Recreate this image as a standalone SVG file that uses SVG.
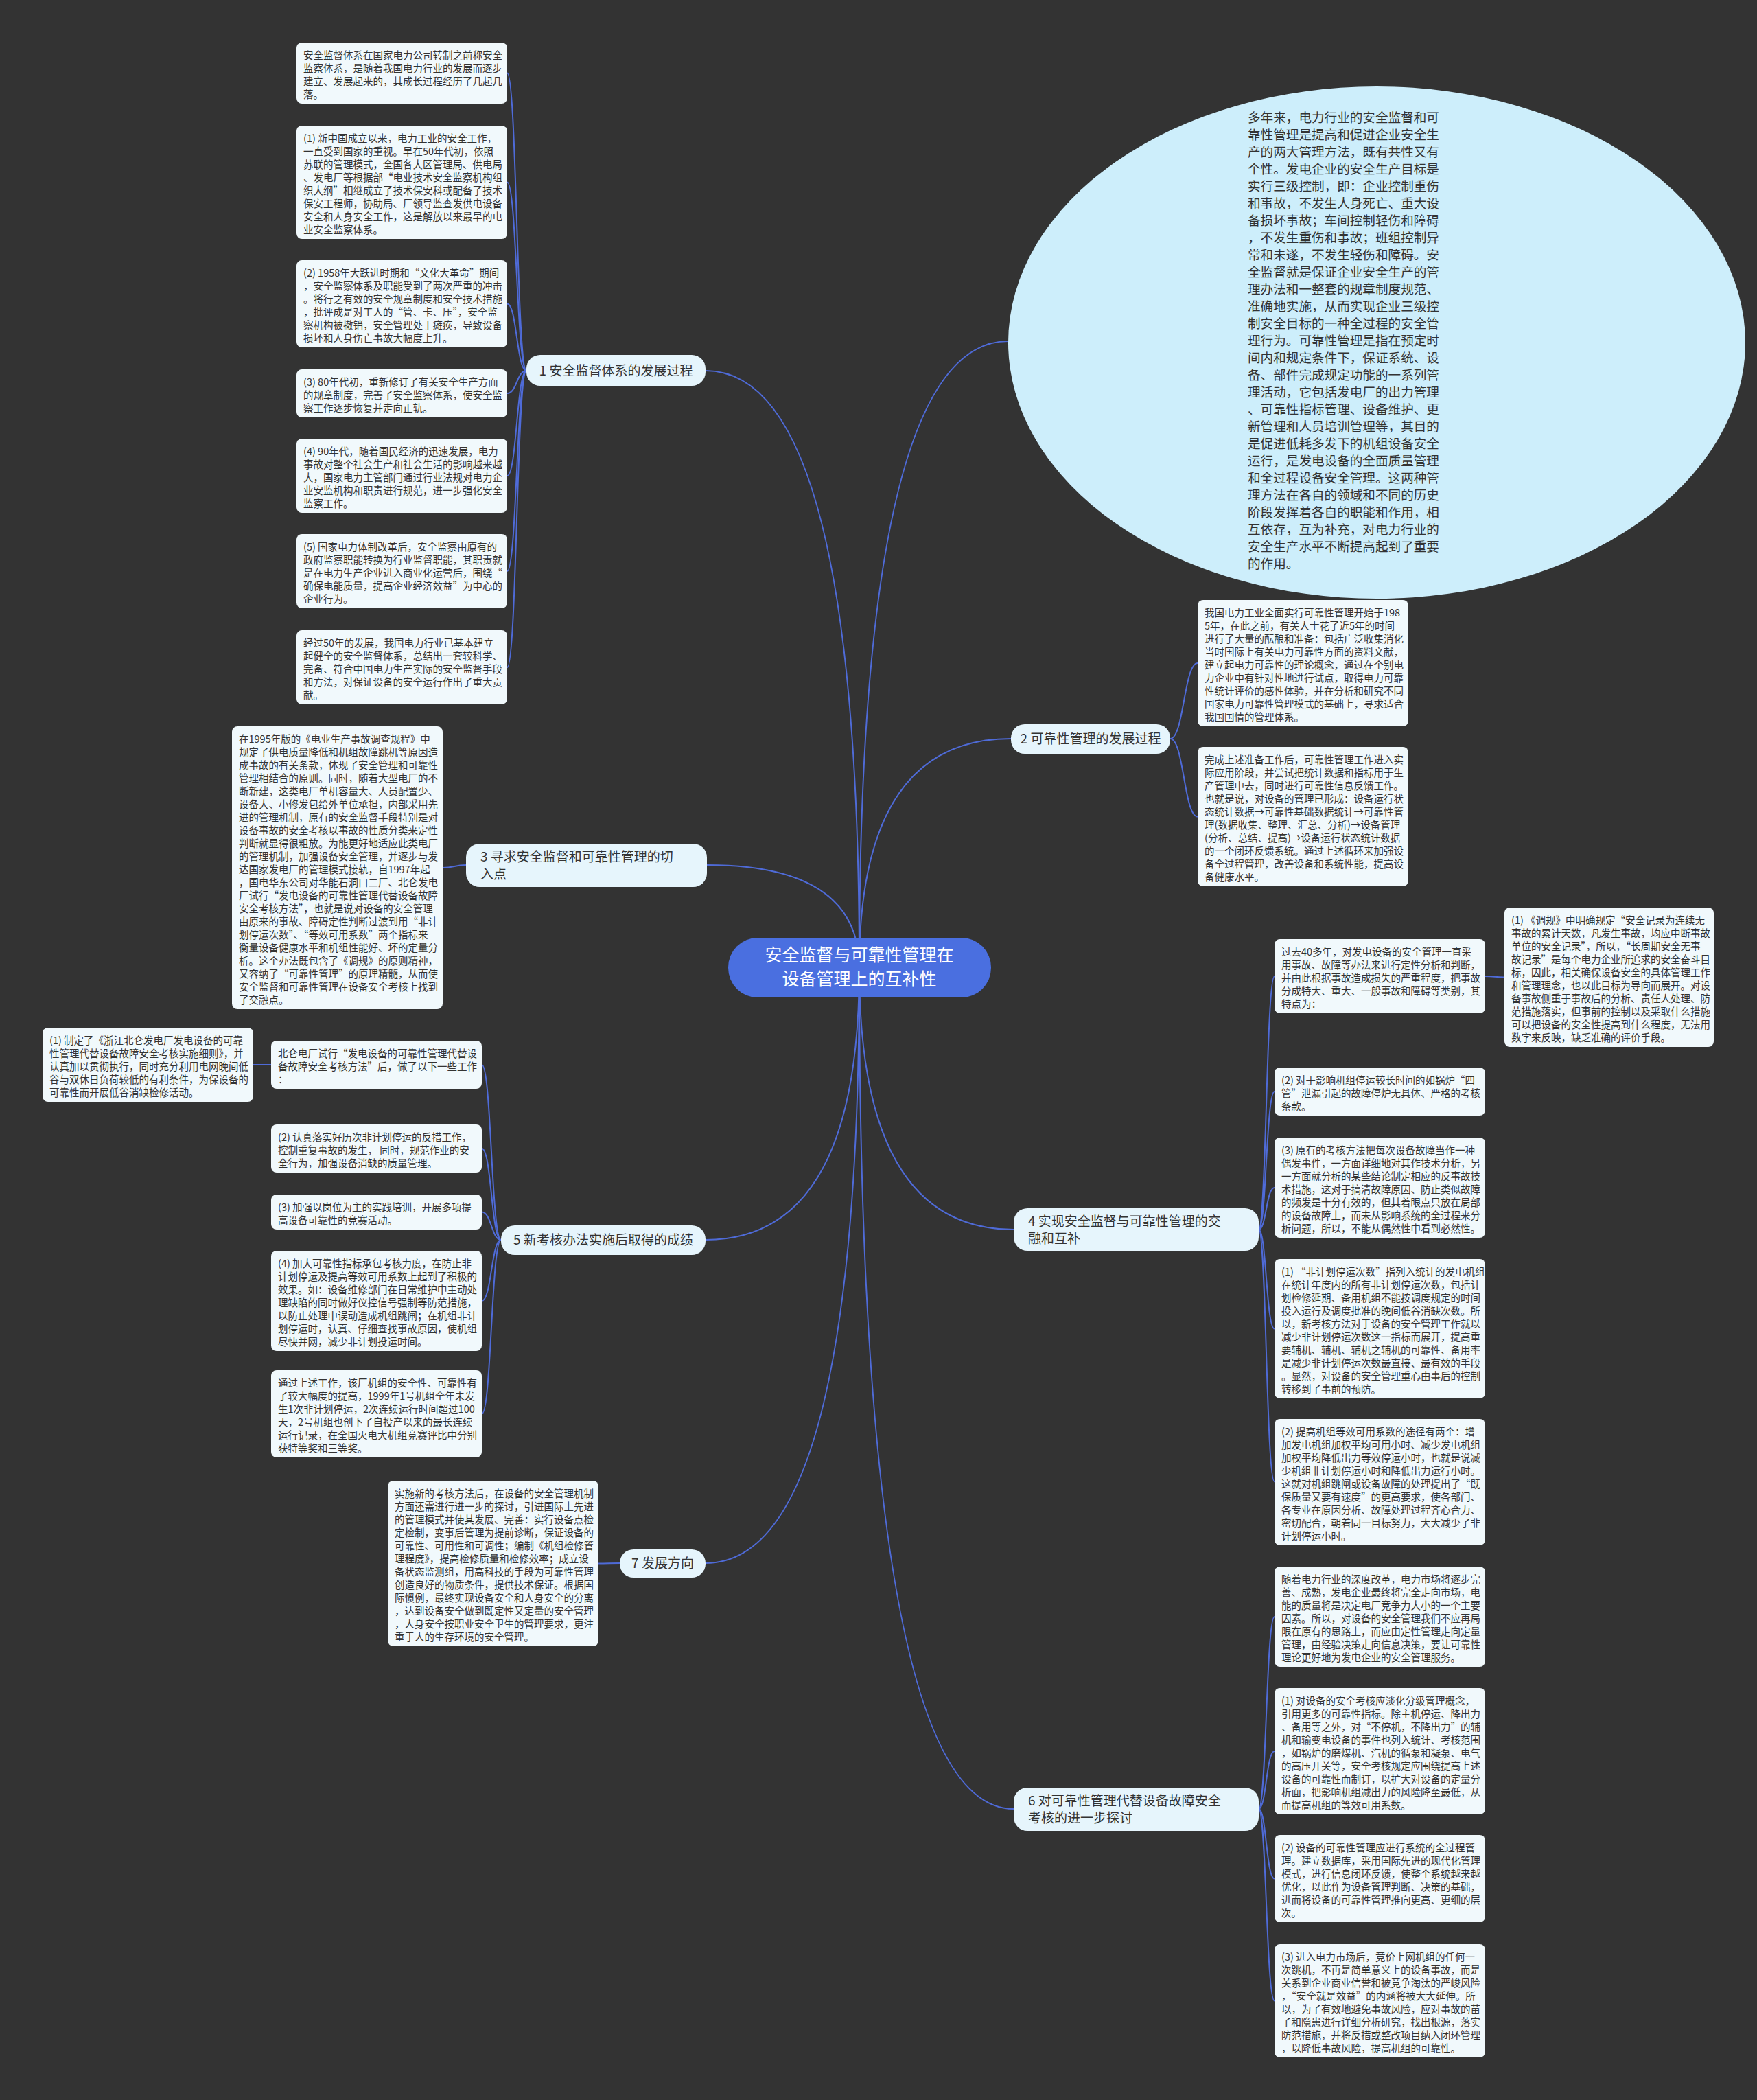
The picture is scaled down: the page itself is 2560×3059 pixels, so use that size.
<svg xmlns="http://www.w3.org/2000/svg" width="2560" height="3059" viewBox="0 0 2560 3059">
<style>
.bg{fill:#333333}
.box{fill:#f1f9fc}
.t{font-family:"Noto Sans CJK SC","Noto Sans",sans-serif;font-size:14.5px;fill:#333333}
.et{font-family:"Noto Sans CJK SC","Noto Sans",sans-serif;font-size:18.6px;fill:#333333}
.lbl{fill:#e6f5fc}
.lt{font-family:"Noto Sans CJK SC","Noto Sans",sans-serif;font-size:19px;fill:#333333}
.ct{font-family:"Noto Sans CJK SC","Noto Sans",sans-serif;font-size:25px;fill:#ffffff}
.conn{fill:none;stroke:#4f6bd8;stroke-width:2}
</style>
<rect class="bg" x="0" y="0" width="2560" height="3059"/>

<g id="connectors">
<path class="conn" d="M1252 1410 Q1252 540 1028 540"/>
<path class="conn" d="M1252 1410 Q1252 1260 1030 1260"/>
<path class="conn" d="M1252 1410 Q1252 1806 1028 1806"/>
<path class="conn" d="M1252 1410 Q1252 2277 1028 2277"/>
<path class="conn" d="M1252 1410 Q1252 497 1469 497"/>
<path class="conn" d="M1252 1410 Q1252 1076 1473 1076"/>
<path class="conn" d="M1252 1410 Q1252 1791 1477 1791"/>
<path class="conn" d="M1252 1410 Q1252 2635 1477 2635"/>
<path class="conn" d="M767 540 C753 540 753 106.5 739 106.5"/>
<path class="conn" d="M767 540 C753 540 753 265.5 739 265.5"/>
<path class="conn" d="M767 540 C753 540 753 442.5 739 442.5"/>
<path class="conn" d="M767 540 C753 540 753 573 739 573"/>
<path class="conn" d="M767 540 C753 540 753 693 739 693"/>
<path class="conn" d="M767 540 C753 540 753 832 739 832"/>
<path class="conn" d="M767 540 C753 540 753 972 739 972"/>
<path class="conn" d="M679 1260 C662 1260 662 1264 645 1264"/>
<path class="conn" d="M730 1806 C716 1806 716 1551 702 1551"/>
<path class="conn" d="M730 1806 C716 1806 716 1673 702 1673"/>
<path class="conn" d="M730 1806 C716 1806 716 1765.5 702 1765.5"/>
<path class="conn" d="M730 1806 C716 1806 716 1895 702 1895"/>
<path class="conn" d="M730 1806 C716 1806 716 2059.5 702 2059.5"/>
<path class="conn" d="M395 1551 C382 1551 382 1551 369 1551"/>
<path class="conn" d="M903 2277 C887 2277 887 2277.5 871 2277.5"/>
<path class="conn" d="M1705 1076 C1725 1076 1725 966 1745 966"/>
<path class="conn" d="M1705 1076 C1725 1076 1725 1189.5 1745 1189.5"/>
<path class="conn" d="M1834 1791 C1845 1791 1845 1422 1857 1422"/>
<path class="conn" d="M1834 1791 C1845 1791 1845 1590 1857 1590"/>
<path class="conn" d="M1834 1791 C1845 1791 1845 1730 1857 1730"/>
<path class="conn" d="M1834 1791 C1845 1791 1845 1935.5 1857 1935.5"/>
<path class="conn" d="M1834 1791 C1845 1791 1845 2158.5 1857 2158.5"/>
<path class="conn" d="M2164 1422 C2178 1422 2178 1423.5 2192 1423.5"/>
<path class="conn" d="M1834 2635 C1845 2635 1845 2355 1857 2355"/>
<path class="conn" d="M1834 2635 C1845 2635 1845 2551 1857 2551"/>
<path class="conn" d="M1834 2635 C1845 2635 1845 2736.5 1857 2736.5"/>
<path class="conn" d="M1834 2635 C1845 2635 1845 2914.5 1857 2914.5"/>
</g>

<g id="center">
<rect x="1061" y="1366" width="383" height="87" rx="43" fill="#4a6fe0"/>
<text class="ct" text-anchor="middle"><tspan x="1252" y="1400">安全监督与可靠性管理在</tspan><tspan x="1252" y="1435">设备管理上的互补性</tspan></text>
</g>

<g id="overview">
<ellipse cx="2006" cy="499" rx="537" ry="373" fill="#cdeefb"/>
<text class="et"><tspan x="1818" y="178">多年来，电力行业的安全监督和可</tspan><tspan x="1818" dy="25">靠性管理是提高和促进企业安全生</tspan><tspan x="1818" dy="25">产的两大管理方法，既有共性又有</tspan><tspan x="1818" dy="25">个性。发电企业的安全生产目标是</tspan><tspan x="1818" dy="25">实行三级控制，即：企业控制重伤</tspan><tspan x="1818" dy="25">和事故，不发生人身死亡、重大设</tspan><tspan x="1818" dy="25">备损坏事故；车间控制轻伤和障碍</tspan><tspan x="1818" dy="25">，不发生重伤和事故；班组控制异</tspan><tspan x="1818" dy="25">常和未遂，不发生轻伤和障碍。安</tspan><tspan x="1818" dy="25">全监督就是保证企业安全生产的管</tspan><tspan x="1818" dy="25">理办法和一整套的规章制度规范、</tspan><tspan x="1818" dy="25">准确地实施，从而实现企业三级控</tspan><tspan x="1818" dy="25">制安全目标的一种全过程的安全管</tspan><tspan x="1818" dy="25">理行为。可靠性管理是指在预定时</tspan><tspan x="1818" dy="25">间内和规定条件下，保证系统、设</tspan><tspan x="1818" dy="25">备、部件完成规定功能的一系列管</tspan><tspan x="1818" dy="25">理活动，它包括发电厂的出力管理</tspan><tspan x="1818" dy="25">、可靠性指标管理、设备维护、更</tspan><tspan x="1818" dy="25">新管理和人员培训管理等，其目的</tspan><tspan x="1818" dy="25">是促进低耗多发下的机组设备安全</tspan><tspan x="1818" dy="25">运行，是发电设备的全面质量管理</tspan><tspan x="1818" dy="25">和全过程设备安全管理。这两种管</tspan><tspan x="1818" dy="25">理方法在各自的领域和不同的历史</tspan><tspan x="1818" dy="25">阶段发挥着各自的职能和作用，相</tspan><tspan x="1818" dy="25">互依存，互为补充，对电力行业的</tspan><tspan x="1818" dy="25">安全生产水平不断提高起到了重要</tspan><tspan x="1818" dy="25">的作用。</tspan></text>
</g>

<g id="branch1">
<rect class="lbl" x="767" y="517" width="261" height="45" rx="20"/>
<text class="lt" x="897.5" y="547" text-anchor="middle">1 安全监督体系的发展过程</text>
</g>
<g id="b1-a"><rect class="box" x="432" y="62" width="307" height="89" rx="8"/>
<text class="t"><tspan x="442" y="86">安全监督体系在国家电力公司转制之前称安全</tspan><tspan x="442" dy="19">监察体系，是随着我国电力行业的发展而逐步</tspan><tspan x="442" dy="19">建立、发展起来的，其成长过程经历了几起几</tspan><tspan x="442" dy="19">落。</tspan></text></g>
<g id="b1-b"><rect class="box" x="432" y="183" width="307" height="165" rx="8"/>
<text class="t"><tspan x="442" y="207">(1) 新中国成立以来，电力工业的安全工作，</tspan><tspan x="442" dy="19">一直受到国家的重视。早在50年代初，依照</tspan><tspan x="442" dy="19">苏联的管理模式，全国各大区管理局、供电局</tspan><tspan x="442" dy="19">、发电厂等根据部“电业技术安全监察机构组</tspan><tspan x="442" dy="19">织大纲”相继成立了技术保安科或配备了技术</tspan><tspan x="442" dy="19">保安工程师，协助局、厂领导监查发供电设备</tspan><tspan x="442" dy="19">安全和人身安全工作，这是解放以来最早的电</tspan><tspan x="442" dy="19">业安全监察体系。</tspan></text></g>
<g id="b1-c"><rect class="box" x="432" y="379" width="307" height="127" rx="8"/>
<text class="t"><tspan x="442" y="403">(2) 1958年大跃进时期和“文化大革命”期间</tspan><tspan x="442" dy="19">，安全监察体系及职能受到了两次严重的冲击</tspan><tspan x="442" dy="19">。将行之有效的安全规章制度和安全技术措施</tspan><tspan x="442" dy="19">，批评成是对工人的“管、卡、压”，安全监</tspan><tspan x="442" dy="19">察机构被撤销，安全管理处于瘫痪，导致设备</tspan><tspan x="442" dy="19">损坏和人身伤亡事故大幅度上升。</tspan></text></g>
<g id="b1-d"><rect class="box" x="432" y="538" width="307" height="70" rx="8"/>
<text class="t"><tspan x="442" y="562">(3) 80年代初，重新修订了有关安全生产方面</tspan><tspan x="442" dy="19">的规章制度，完善了安全监察体系，使安全监</tspan><tspan x="442" dy="19">察工作逐步恢复并走向正轨。</tspan></text></g>
<g id="b1-e"><rect class="box" x="432" y="639" width="307" height="108" rx="8"/>
<text class="t"><tspan x="442" y="663">(4) 90年代，随着国民经济的迅速发展，电力</tspan><tspan x="442" dy="19">事故对整个社会生产和社会生活的影响越来越</tspan><tspan x="442" dy="19">大，国家电力主管部门通过行业法规对电力企</tspan><tspan x="442" dy="19">业安监机构和职责进行规范，进一步强化安全</tspan><tspan x="442" dy="19">监察工作。</tspan></text></g>
<g id="b1-f"><rect class="box" x="432" y="778" width="307" height="108" rx="8"/>
<text class="t"><tspan x="442" y="802">(5) 国家电力体制改革后，安全监察由原有的</tspan><tspan x="442" dy="19">政府监察职能转换为行业监督职能，其职责就</tspan><tspan x="442" dy="19">是在电力生产企业进入商业化运营后，围绕“</tspan><tspan x="442" dy="19">确保电能质量，提高企业经济效益”为中心的</tspan><tspan x="442" dy="19">企业行为。</tspan></text></g>
<g id="b1-g"><rect class="box" x="432" y="918" width="307" height="108" rx="8"/>
<text class="t"><tspan x="442" y="942">经过50年的发展，我国电力行业已基本建立</tspan><tspan x="442" dy="19">起健全的安全监督体系，总结出一套较科学、</tspan><tspan x="442" dy="19">完备、符合中国电力生产实际的安全监督手段</tspan><tspan x="442" dy="19">和方法，对保证设备的安全运行作出了重大贡</tspan><tspan x="442" dy="19">献。</tspan></text></g>

<g id="branch3">
<rect class="lbl" x="679" y="1229" width="351" height="63" rx="20"/>
<text class="lt"><tspan x="700" y="1255">3 寻求安全监督和可靠性管理的切</tspan><tspan x="700" dy="25">入点</tspan></text>
</g>
<g id="b3-a"><rect class="box" x="338" y="1058" width="307" height="412" rx="8"/>
<text class="t"><tspan x="348" y="1082">在1995年版的《电业生产事故调查规程》中</tspan><tspan x="348" dy="19">规定了供电质量降低和机组故障跳机等原因造</tspan><tspan x="348" dy="19">成事故的有关条款，体现了安全管理和可靠性</tspan><tspan x="348" dy="19">管理相结合的原则。同时，随着大型电厂的不</tspan><tspan x="348" dy="19">断新建，这类电厂单机容量大、人员配置少、</tspan><tspan x="348" dy="19">设备大、小修发包给外单位承担，内部采用先</tspan><tspan x="348" dy="19">进的管理机制，原有的安全监督手段特别是对</tspan><tspan x="348" dy="19">设备事故的安全考核以事故的性质分类来定性</tspan><tspan x="348" dy="19">判断就显得很粗放。为能更好地适应此类电厂</tspan><tspan x="348" dy="19">的管理机制，加强设备安全管理，并逐步与发</tspan><tspan x="348" dy="19">达国家发电厂的管理模式接轨，自1997年起</tspan><tspan x="348" dy="19">，国电华东公司对华能石洞口二厂、北仑发电</tspan><tspan x="348" dy="19">厂试行“发电设备的可靠性管理代替设备故障</tspan><tspan x="348" dy="19">安全考核方法”，也就是说对设备的安全管理</tspan><tspan x="348" dy="19">由原来的事故、障碍定性判断过渡到用“非计</tspan><tspan x="348" dy="19">划停运次数”、“等效可用系数”两个指标来</tspan><tspan x="348" dy="19">衡量设备健康水平和机组性能好、坏的定量分</tspan><tspan x="348" dy="19">析。这个办法既包含了《调规》的原则精神，</tspan><tspan x="348" dy="19">又容纳了“可靠性管理”的原理精髓，从而使</tspan><tspan x="348" dy="19">安全监督和可靠性管理在设备安全考核上找到</tspan><tspan x="348" dy="19">了交融点。</tspan></text></g>

<g id="branch5">
<rect class="lbl" x="730" y="1785" width="298" height="43" rx="20"/>
<text class="lt" x="879" y="1813" text-anchor="middle">5 新考核办法实施后取得的成绩</text>
</g>
<g id="b5-a"><rect class="box" x="395" y="1516" width="307" height="70" rx="8"/>
<text class="t"><tspan x="405" y="1540">北仑电厂试行“发电设备的可靠性管理代替设</tspan><tspan x="405" dy="19">备故障安全考核方法”后，做了以下一些工作</tspan><tspan x="405" dy="19">：</tspan></text></g>
<g id="b5-a1"><rect class="box" x="62" y="1497" width="307" height="108" rx="8"/>
<text class="t"><tspan x="72" y="1521">(1) 制定了《浙江北仑发电厂发电设备的可靠</tspan><tspan x="72" dy="19">性管理代替设备故障安全考核实施细则》，并</tspan><tspan x="72" dy="19">认真加以贯彻执行，同时充分利用电网晚间低</tspan><tspan x="72" dy="19">谷与双休日负荷较低的有利条件，为保设备的</tspan><tspan x="72" dy="19">可靠性而开展低谷消缺检修活动。</tspan></text></g>
<g id="b5-b"><rect class="box" x="395" y="1638" width="307" height="70" rx="8"/>
<text class="t"><tspan x="405" y="1662">(2) 认真落实好历次非计划停运的反措工作，</tspan><tspan x="405" dy="19">控制重复事故的发生， 同时，规范作业的安</tspan><tspan x="405" dy="19">全行为，加强设备消缺的质量管理。</tspan></text></g>
<g id="b5-c"><rect class="box" x="395" y="1740" width="307" height="51" rx="8"/>
<text class="t"><tspan x="405" y="1764">(3) 加强以岗位为主的实践培训，开展多项提</tspan><tspan x="405" dy="19">高设备可靠性的竞赛活动。</tspan></text></g>
<g id="b5-d"><rect class="box" x="395" y="1822" width="307" height="146" rx="8"/>
<text class="t"><tspan x="405" y="1846">(4) 加大可靠性指标承包考核力度，在防止非</tspan><tspan x="405" dy="19">计划停运及提高等效可用系数上起到了积极的</tspan><tspan x="405" dy="19">效果。如：设备维修部门在日常维护中主动处</tspan><tspan x="405" dy="19">理缺陷的同时做好仪控信号强制等防范措施，</tspan><tspan x="405" dy="19">以防止处理中误动造成机组跳闸；在机组非计</tspan><tspan x="405" dy="19">划停运时，认真、仔细查找事故原因，使机组</tspan><tspan x="405" dy="19">尽快并网，减少非计划投运时间。</tspan></text></g>
<g id="b5-e"><rect class="box" x="395" y="1996" width="307" height="127" rx="8"/>
<text class="t"><tspan x="405" y="2020">通过上述工作，该厂机组的安全性、可靠性有</tspan><tspan x="405" dy="19">了较大幅度的提高，1999年1号机组全年未发</tspan><tspan x="405" dy="19">生1次非计划停运，2次连续运行时间超过100</tspan><tspan x="405" dy="19">天，2号机组也创下了自投产以来的最长连续</tspan><tspan x="405" dy="19">运行记录，在全国火电大机组竞赛评比中分别</tspan><tspan x="405" dy="19">获特等奖和三等奖。</tspan></text></g>

<g id="branch7">
<rect class="lbl" x="903" y="2257" width="125" height="41" rx="20"/>
<text class="lt" x="965.5" y="2284" text-anchor="middle">7 发展方向</text>
</g>
<g id="b7-a"><rect class="box" x="565" y="2157" width="307" height="241" rx="8"/>
<text class="t"><tspan x="575" y="2181">实施新的考核方法后，在设备的安全管理机制</tspan><tspan x="575" dy="19">方面还需进行进一步的探讨，引进国际上先进</tspan><tspan x="575" dy="19">的管理模式并使其发展、完善：实行设备点检</tspan><tspan x="575" dy="19">定检制，变事后管理为提前诊断，保证设备的</tspan><tspan x="575" dy="19">可靠性、可用性和可调性；编制《机组检修管</tspan><tspan x="575" dy="19">理程度》，提高检修质量和检修效率；成立设</tspan><tspan x="575" dy="19">备状态监测组，用高科技的手段为可靠性管理</tspan><tspan x="575" dy="19">创造良好的物质条件，提供技术保证。根据国</tspan><tspan x="575" dy="19">际惯例，最终实现设备安全和人身安全的分离</tspan><tspan x="575" dy="19">，达到设备安全做到既定性又定量的安全管理</tspan><tspan x="575" dy="19">，人身安全按职业安全卫生的管理要求，更注</tspan><tspan x="575" dy="19">重于人的生存环境的安全管理。</tspan></text></g>

<g id="branch2">
<rect class="lbl" x="1473" y="1055" width="232" height="43" rx="20"/>
<text class="lt" x="1589" y="1083" text-anchor="middle">2 可靠性管理的发展过程</text>
</g>
<g id="b2-a"><rect class="box" x="1745" y="874" width="307" height="184" rx="8"/>
<text class="t"><tspan x="1755" y="898">我国电力工业全面实行可靠性管理开始于198</tspan><tspan x="1755" dy="19">5年，在此之前，有关人士花了近5年的时间</tspan><tspan x="1755" dy="19">进行了大量的酝酿和准备：包括广泛收集消化</tspan><tspan x="1755" dy="19">当时国际上有关电力可靠性方面的资料文献，</tspan><tspan x="1755" dy="19">建立起电力可靠性的理论概念，通过在个别电</tspan><tspan x="1755" dy="19">力企业中有针对性地进行试点，取得电力可靠</tspan><tspan x="1755" dy="19">性统计评价的感性体验，并在分析和研究不同</tspan><tspan x="1755" dy="19">国家电力可靠性管理模式的基础上，寻求适合</tspan><tspan x="1755" dy="19">我国国情的管理体系。</tspan></text></g>
<g id="b2-b"><rect class="box" x="1745" y="1088" width="307" height="203" rx="8"/>
<text class="t"><tspan x="1755" y="1112">完成上述准备工作后，可靠性管理工作进入实</tspan><tspan x="1755" dy="19">际应用阶段，并尝试把统计数据和指标用于生</tspan><tspan x="1755" dy="19">产管理中去，同时进行可靠性信息反馈工作。</tspan><tspan x="1755" dy="19">也就是说，对设备的管理已形成：设备运行状</tspan><tspan x="1755" dy="19">态统计数据→可靠性基础数据统计→可靠性管</tspan><tspan x="1755" dy="19">理(数据收集、整理、汇总、分析)→设备管理</tspan><tspan x="1755" dy="19">(分析、总结、提高)→设备运行状态统计数据</tspan><tspan x="1755" dy="19">的一个闭环反馈系统。通过上述循环来加强设</tspan><tspan x="1755" dy="19">备全过程管理，改善设备和系统性能，提高设</tspan><tspan x="1755" dy="19">备健康水平。</tspan></text></g>

<g id="branch4">
<rect class="lbl" x="1477" y="1760" width="357" height="62" rx="20"/>
<text class="lt"><tspan x="1498" y="1786">4 实现安全监督与可靠性管理的交</tspan><tspan x="1498" dy="25">融和互补</tspan></text>
</g>
<g id="b4-a"><rect class="box" x="1857" y="1368" width="307" height="108" rx="8"/>
<text class="t"><tspan x="1867" y="1392">过去40多年，对发电设备的安全管理一直采</tspan><tspan x="1867" dy="19">用事故、故障等办法来进行定性分析和判断，</tspan><tspan x="1867" dy="19">并由此根据事故造成损失的严重程度，把事故</tspan><tspan x="1867" dy="19">分成特大、重大、一般事故和障碍等类别，其</tspan><tspan x="1867" dy="19">特点为：</tspan></text></g>
<g id="b4-a1"><rect class="box" x="2192" y="1322" width="305" height="203" rx="8"/>
<text class="t"><tspan x="2202" y="1346">(1) 《调规》中明确规定“安全记录为连续无</tspan><tspan x="2202" dy="19">事故的累计天数，凡发生事故，均应中断事故</tspan><tspan x="2202" dy="19">单位的安全记录”，所以，“长周期安全无事</tspan><tspan x="2202" dy="19">故记录”是每个电力企业所追求的安全奋斗目</tspan><tspan x="2202" dy="19">标，因此，相关确保设备安全的具体管理工作</tspan><tspan x="2202" dy="19">和管理理念，也以此目标为导向而展开。对设</tspan><tspan x="2202" dy="19">备事故侧重于事故后的分析、责任人处理、防</tspan><tspan x="2202" dy="19">范措施落实，但事前的控制以及采取什么措施</tspan><tspan x="2202" dy="19">可以把设备的安全性提高到什么程度，无法用</tspan><tspan x="2202" dy="19">数字来反映，缺乏准确的评价手段。</tspan></text></g>
<g id="b4-b"><rect class="box" x="1857" y="1555" width="307" height="70" rx="8"/>
<text class="t"><tspan x="1867" y="1579">(2) 对于影响机组停运较长时间的如锅炉“四</tspan><tspan x="1867" dy="19">管”泄漏引起的故障停炉无具体、严格的考核</tspan><tspan x="1867" dy="19">条款。</tspan></text></g>
<g id="b4-c"><rect class="box" x="1857" y="1657" width="307" height="146" rx="8"/>
<text class="t"><tspan x="1867" y="1681">(3) 原有的考核方法把每次设备故障当作一种</tspan><tspan x="1867" dy="19">偶发事件，一方面详细地对其作技术分析，另</tspan><tspan x="1867" dy="19">一方面就分析的某些结论制定相应的反事故技</tspan><tspan x="1867" dy="19">术措施，这对于搞清故障原因、防止类似故障</tspan><tspan x="1867" dy="19">的频发是十分有效的，但其着眼点只放在局部</tspan><tspan x="1867" dy="19">的设备故障上，而未从影响系统的全过程来分</tspan><tspan x="1867" dy="19">析问题，所以，不能从偶然性中看到必然性。</tspan></text></g>
<g id="b4-d"><rect class="box" x="1857" y="1834" width="307" height="203" rx="8"/>
<text class="t"><tspan x="1867" y="1858">(1) “非计划停运次数”指列入统计的发电机组</tspan><tspan x="1867" dy="19">在统计年度内的所有非计划停运次数，包括计</tspan><tspan x="1867" dy="19">划检修延期、备用机组不能按调度规定的时间</tspan><tspan x="1867" dy="19">投入运行及调度批准的晚间低谷消缺次数。所</tspan><tspan x="1867" dy="19">以，新考核方法对于设备的安全管理工作就以</tspan><tspan x="1867" dy="19">减少非计划停运次数这一指标而展开，提高重</tspan><tspan x="1867" dy="19">要辅机、辅机、辅机之辅机的可靠性、备用率</tspan><tspan x="1867" dy="19">是减少非计划停运次数最直接、最有效的手段</tspan><tspan x="1867" dy="19">。显然，对设备的安全管理重心由事后的控制</tspan><tspan x="1867" dy="19">转移到了事前的预防。</tspan></text></g>
<g id="b4-e"><rect class="box" x="1857" y="2067" width="307" height="184" rx="8"/>
<text class="t"><tspan x="1867" y="2091">(2) 提高机组等效可用系数的途径有两个：增</tspan><tspan x="1867" dy="19">加发电机组加权平均可用小时、减少发电机组</tspan><tspan x="1867" dy="19">加权平均降低出力等效停运小时，也就是说减</tspan><tspan x="1867" dy="19">少机组非计划停运小时和降低出力运行小时。</tspan><tspan x="1867" dy="19">这就对机组跳闸或设备故障的处理提出了“既</tspan><tspan x="1867" dy="19">保质量又要有速度”的更高要求，使各部门、</tspan><tspan x="1867" dy="19">各专业在原因分析、故障处理过程齐心合力、</tspan><tspan x="1867" dy="19">密切配合，朝着同一目标努力，大大减少了非</tspan><tspan x="1867" dy="19">计划停运小时。</tspan></text></g>

<g id="branch6">
<rect class="lbl" x="1477" y="2604" width="357" height="63" rx="20"/>
<text class="lt"><tspan x="1498" y="2630">6 对可靠性管理代替设备故障安全</tspan><tspan x="1498" dy="25">考核的进一步探讨</tspan></text>
</g>
<g id="b6-a"><rect class="box" x="1857" y="2282" width="307" height="146" rx="8"/>
<text class="t"><tspan x="1867" y="2306">随着电力行业的深度改革，电力市场将逐步完</tspan><tspan x="1867" dy="19">善、成熟，发电企业最终将完全走向市场，电</tspan><tspan x="1867" dy="19">能的质量将是决定电厂竞争力大小的一个主要</tspan><tspan x="1867" dy="19">因素。所以，对设备的安全管理我们不应再局</tspan><tspan x="1867" dy="19">限在原有的思路上，而应由定性管理走向定量</tspan><tspan x="1867" dy="19">管理，由经验决策走向信息决策，要让可靠性</tspan><tspan x="1867" dy="19">理论更好地为发电企业的安全管理服务。</tspan></text></g>
<g id="b6-b"><rect class="box" x="1857" y="2459" width="307" height="184" rx="8"/>
<text class="t"><tspan x="1867" y="2483">(1) 对设备的安全考核应淡化分级管理概念，</tspan><tspan x="1867" dy="19">引用更多的可靠性指标。除主机停运、降出力</tspan><tspan x="1867" dy="19">、备用等之外，对“不停机，不降出力”的辅</tspan><tspan x="1867" dy="19">机和输变电设备的事件也列入统计、考核范围</tspan><tspan x="1867" dy="19">，如锅炉的磨煤机、汽机的循泵和凝泵、电气</tspan><tspan x="1867" dy="19">的高压开关等，安全考核规定应围绕提高上述</tspan><tspan x="1867" dy="19">设备的可靠性而制订，以扩大对设备的定量分</tspan><tspan x="1867" dy="19">析面，把影响机组减出力的风险降至最低，从</tspan><tspan x="1867" dy="19">而提高机组的等效可用系数。</tspan></text></g>
<g id="b6-c"><rect class="box" x="1857" y="2673" width="307" height="127" rx="8"/>
<text class="t"><tspan x="1867" y="2697">(2) 设备的可靠性管理应进行系统的全过程管</tspan><tspan x="1867" dy="19">理。建立数据库，采用国际先进的现代化管理</tspan><tspan x="1867" dy="19">模式，进行信息闭环反馈，使整个系统越来越</tspan><tspan x="1867" dy="19">优化，以此作为设备管理判断、决策的基础，</tspan><tspan x="1867" dy="19">进而将设备的可靠性管理推向更高、更细的层</tspan><tspan x="1867" dy="19">次。</tspan></text></g>
<g id="b6-d"><rect class="box" x="1857" y="2832" width="307" height="165" rx="8"/>
<text class="t"><tspan x="1867" y="2856">(3) 进入电力市场后，竞价上网机组的任何一</tspan><tspan x="1867" dy="19">次跳机，不再是简单意义上的设备事故，而是</tspan><tspan x="1867" dy="19">关系到企业商业信誉和被竞争淘汰的严峻风险</tspan><tspan x="1867" dy="19">，“安全就是效益”的内涵将被大大延伸。所</tspan><tspan x="1867" dy="19">以，为了有效地避免事故风险，应对事故的苗</tspan><tspan x="1867" dy="19">子和隐患进行详细分析研究，找出根源，落实</tspan><tspan x="1867" dy="19">防范措施，并将反措或整改项目纳入闭环管理</tspan><tspan x="1867" dy="19">，以降低事故风险，提高机组的可靠性。</tspan></text></g>
</svg>
